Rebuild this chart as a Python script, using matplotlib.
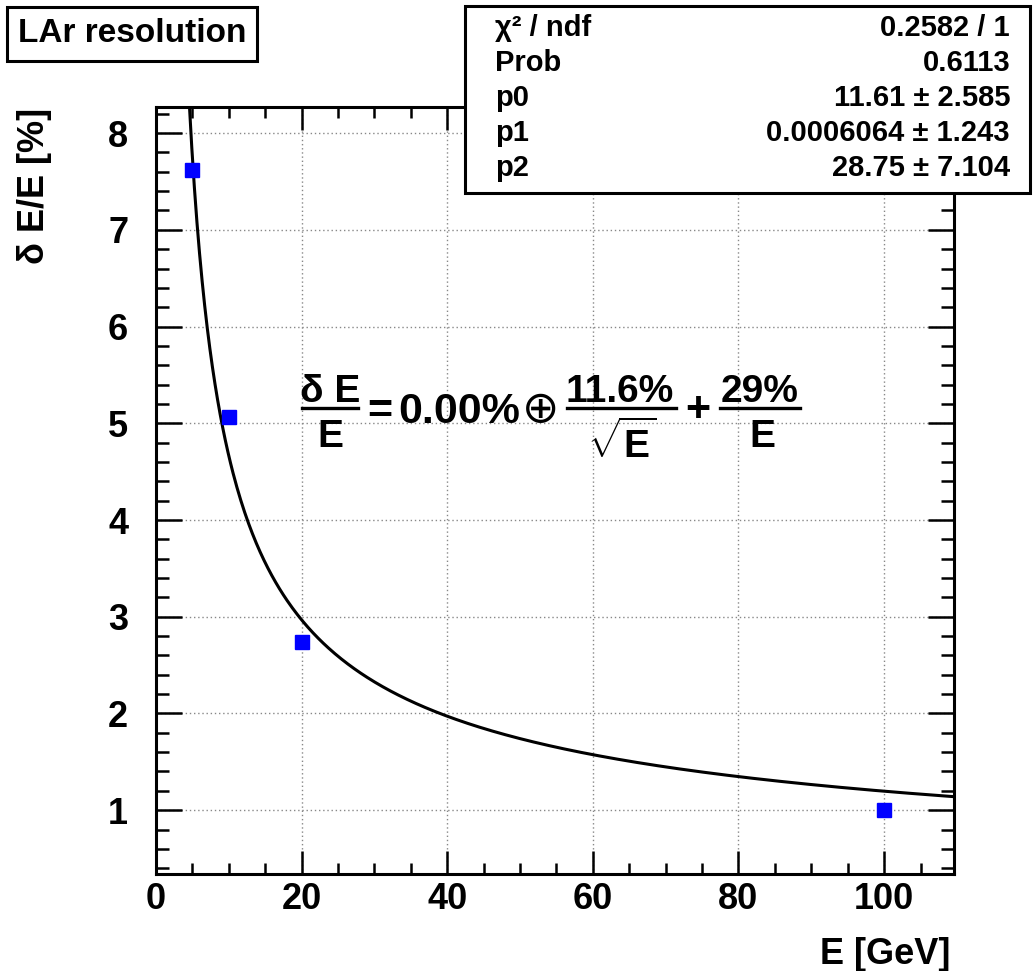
import numpy as np
import matplotlib
matplotlib.use('Agg')
import matplotlib.pyplot as plt
from matplotlib.patches import Rectangle
from matplotlib.lines import Line2D

plt.rcParams['font.family'] = ['Liberation Sans', 'DejaVu Sans']
plt.rcParams['font.weight'] = 'bold'
plt.rcParams['mathtext.fontset'] = 'custom'
plt.rcParams['mathtext.rm'] = 'Liberation Sans'
plt.rcParams['mathtext.bf'] = 'Liberation Sans:bold'

# data points (energy in GeV, resolution in %)
energy = [5, 10, 20, 100]
resolution = [7.62, 5.06, 2.74, 1.0]

# fit parameters from the stats box
p0, p1, p2 = 11.61, 0.0006064, 28.75
stat_labels = ['χ² / ndf', 'Prob', 'p0', 'p1', 'p2']
stat_values = ['0.2582 / 1', '0.6113', '11.61 ± 2.585', '0.0006064 ± 1.243', '28.75 ± 7.104']

W, H = 1034, 971
def fx(px):
    return px / W
def fy(py):
    return 1 - py / H

fig = plt.figure(figsize=(W / 100, H / 100), dpi=100)
ax = fig.add_axes([fx(156), fy(874), fx(954) - fx(156), fy(107) - fy(874)])

# fit curve
e_fit = np.linspace(3.5, 109.6, 600)
res_fit = np.sqrt((p0 / np.sqrt(e_fit)) ** 2 + p1 ** 2 + (p2 / e_fit) ** 2)
ax.plot(e_fit, res_fit, color='black', lw=2.2, zorder=3)
ax.plot(energy, resolution, 's', color='#0000ff', ms=10, mec='#0000ff', zorder=4)

ax.set_xlim(0, 109.6)
ax.set_ylim(0.34, 8.27)
ax.set_xticks([0, 20, 40, 60, 80, 100])
ax.set_xticks(np.arange(5, 110, 5), minor=True)
ax.set_yticks(range(1, 9))
ax.set_yticks(np.arange(0.4, 8.3, 0.2), minor=True)
ax.grid(True, which='major', linestyle=(0, (1, 2)), color='#888888', lw=1.0)
ax.set_axisbelow(True)

ax.tick_params(which='both', direction='in', top=True, right=True, width=1.8, labelsize=26)
ax.tick_params(axis='x', which='major', length=16.5, pad=6)
ax.tick_params(axis='x', which='minor', length=8)
ax.tick_params(axis='y', which='major', length=18.5, pad=20)
ax.tick_params(axis='y', which='minor', length=9.5)
for lab in ax.get_xticklabels() + ax.get_yticklabels():
    lab.set_fontweight('bold')
for s in ax.spines.values():
    s.set_linewidth(2.2)

fig.text(fx(950), fy(964), 'E [GeV]', ha='right', va='baseline', fontsize=26, fontweight='bold')
fig.text(fx(35), fy(108), 'δ E/E [%]', ha='center', va='top', rotation=90, fontsize=26, fontweight='bold')

# title box
fig.add_artist(Rectangle((fx(7), fy(61)), fx(257) - fx(7), fy(7) - fy(61), transform=fig.transFigure,
                         facecolor='white', edgecolor='black', lw=2.2, zorder=5))
fig.text(fx(132), fy(34), 'LAr resolution', ha='center', va='center', fontsize=24, fontweight='bold', zorder=6)

# stats box
fig.add_artist(Rectangle((fx(465), fy(193)), fx(1030) - fx(465), fy(6) - fy(193), transform=fig.transFigure,
                         facecolor='white', edgecolor='black', lw=2.2, zorder=5))
row_y = [28, 63, 98, 133, 168]
for lab, val, y in zip(stat_labels, stat_values, row_y):
    fig.text(fx(495), fy(y), lab, ha='left', va='center', fontsize=21, fontweight='bold', zorder=6)
    fig.text(fx(1010), fy(y), val, ha='right', va='center', fontsize=21, fontweight='bold', zorder=6)

# resolution formula
def frac_bar(x0, x1, y):
    fig.add_artist(Line2D([fx(x0), fx(x1)], [fy(y), fy(y)], transform=fig.transFigure, color='black', lw=2.4))

fig.text(fx(330), fy(402), 'δ E', ha='center', va='baseline', fontsize=28, fontweight='bold')
frac_bar(302, 358, 408)
fig.text(fx(330), fy(447), 'E', ha='center', va='baseline', fontsize=28, fontweight='bold')
fig.text(fx(380), fy(423), '=', ha='center', va='baseline', fontsize=31, fontweight='bold')
fig.text(fx(398), fy(423), '0.00%', ha='left', va='baseline', fontsize=31, fontweight='bold')
fig.text(fx(541), fy(422), '⊕', ha='center', va='baseline', fontsize=32, fontweight='normal',
         family=['DejaVu Sans'])
fig.text(fx(620), fy(402), '11.6%', ha='center', va='baseline', fontsize=28, fontweight='bold')
frac_bar(567, 676, 408)
fig.text(fx(622), fy(458), r'$\sqrt{\mathbf{E}}$', ha='center', va='baseline', fontsize=28)
fig.text(fx(698), fy(421), '+', ha='center', va='baseline', fontsize=31, fontweight='bold')
fig.text(fx(760), fy(402), '29%', ha='center', va='baseline', fontsize=28, fontweight='bold')
frac_bar(720, 800, 408)
fig.text(fx(762), fy(447), 'E', ha='center', va='baseline', fontsize=28, fontweight='bold')

fig.savefig('out.png', dpi=100)
